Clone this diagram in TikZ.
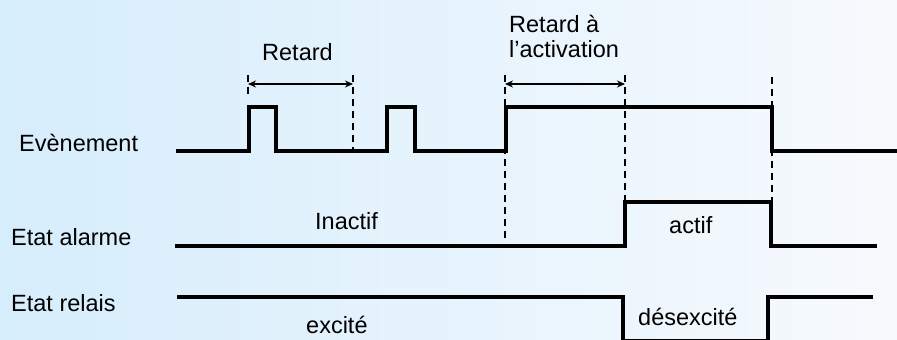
\documentclass[tikz,border=0pt]{standalone}
\usepackage{fontspec}
\setmainfont{Liberation Sans}
\usetikzlibrary{arrows.meta}
\definecolor{bgleft}{RGB}{214,237,252}
\definecolor{bgright}{RGB}{247,250,253}
\tikzset{
  signal/.style={line width=4.5pt, miter limit=10, line join=miter, line cap=butt},
  guide/.style={line width=1.5pt, dash pattern=on 7pt off 5pt},
  span/.style={line width=1.5pt, {Stealth[length=8pt,width=7pt]}-{Stealth[length=8pt,width=7pt]}},
  lbl/.style={anchor=base west, inner sep=0pt, font=\fontsize{23.5}{28}\selectfont}
}
\begin{document}
\begin{tikzpicture}[x=1pt,y=-1pt]
\useasboundingbox (0,0) rectangle (897,340);
\clip (0,0) rectangle (897,340);
\shade[left color=bgleft, right color=bgright] (0,0) rectangle (897,340);

% guide lines
\coordinate (g1t) at (248,75);  \coordinate (g1b) at (248,97);
\coordinate (g2t) at (353,75);  \coordinate (g2b) at (353,151);
\coordinate (g3t) at (505,75);  \coordinate (g3b) at (505,238);
\coordinate (g4t) at (625,75);  \coordinate (g4b) at (625,246);
\coordinate (g5t) at (772,77);  \coordinate (g5b) at (772,202);
\draw[guide] (g1t) -- (g1b);
\draw[guide] (g2t) -- (g2b);
\draw[guide] (g3t) -- (g3b);
\draw[guide] (g4t) -- (g4b);
\draw[guide] (g5t) -- (g5b);

% span arrows
\coordinate (a1l) at (248,84); \coordinate (a1r) at (353,84);
\coordinate (a2l) at (505,84); \coordinate (a2r) at (625,84);
\draw[span] (a1l) -- (a1r);
\draw[span] (a2l) -- (a2r);

% signals
\draw[signal] (176,151) -- (249,151) -- (249,107) -- (276,107) -- (276,151)
  -- (387,151) -- (387,107) -- (415,107) -- (415,151) -- (506,151)
  -- (506,107) -- (772,107) -- (772,151) -- (900,151);
\draw[signal] (175,246) -- (625,246) -- (625,202) -- (771,202) -- (771,246) -- (877,246);
\draw[signal] (177,297) -- (623,297) -- (623,341.6) -- (768,341.6) -- (768,297) -- (873,297);

% labels
\node[lbl] (ev) at (19,151) {Evènement};
\node[lbl] (al) at (11,245) {Etat alarme};
\node[lbl] (re) at (11,311) {Etat relais};
\node[lbl] (ret) at (262,60) {Retard};
\node[lbl] (ra1) at (509,32) {Retard à};
\node[lbl] (ra2) at (509,57) {l’activation};
\node[lbl] (ina) at (315,229) {Inactif};
\node[lbl] (exc) at (306,333) {excité};
\node[lbl] (act) at (669,233) {actif};
\node[lbl] (des) at (638,325) {désexcité};
\end{tikzpicture}
\end{document}
